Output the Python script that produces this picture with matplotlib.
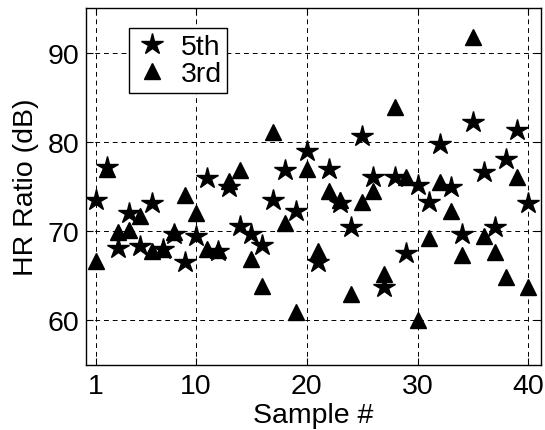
import matplotlib.pyplot as plt
import numpy as np

plt.rcParams['font.family'] = ['Liberation Sans', 'DejaVu Sans']

samples = np.arange(1, 41)
fifth = [73.5, 77.2, 68.1, 72.0, 68.3, 73.2, 68.0, 69.7, 66.5, 69.5,
         75.9, 67.8, 74.9, 70.6, 69.7, 68.4, 73.5, 76.8, 72.3, 79.0,
         66.5, 77.0, 73.1, 70.5, 80.7, 76.1, 63.7, 76.1, 67.6, 75.2,
         73.3, 79.8, 74.9, 69.7, 82.2, 76.6, 70.5, 78.1, 81.3, 73.1]
third = [66.7, 77.0, 69.9, 70.1, 71.7, 67.8, 68.0, 69.9, 74.1, 72.0,
         68.0, 67.9, 75.6, 76.8, 66.9, 63.9, 81.1, 70.9, 60.9, 77.0,
         67.8, 74.5, 73.5, 63.0, 73.3, 74.5, 65.2, 83.9, 76.1, 60.0,
         69.2, 75.5, 72.3, 67.3, 91.7, 69.5, 67.7, 64.9, 76.1, 63.7]

fig = plt.figure(figsize=(5.45, 4.31), dpi=100)
ax = fig.add_axes([0.158, 0.151, 0.835, 0.828])

ax.plot(samples, fifth, '*', color='k', markersize=16, label='5th')
ax.plot(samples, third, '^', color='k', markersize=11, label='3rd')

ax.set_xlim(0.1, 41.15)
ax.set_ylim(55, 95)
ax.set_xticks([1, 10, 20, 30, 40])
ax.set_yticks([60, 70, 80, 90])
ax.tick_params(direction='in', labelsize=20.5, top=True, right=True, length=5)
ax.tick_params(axis='x', pad=6)
ax.tick_params(axis='y', pad=5)
ax.grid(True, color='k', linestyle=(0, (5, 4)), linewidth=0.7)
for s in ax.spines.values():
    s.set_linewidth(1.0)

ax.set_xlabel('Sample #', fontsize=20.5, labelpad=2)
ax.set_ylabel('HR Ratio (dB)', fontsize=20.5, labelpad=6)

leg = ax.legend(loc='upper left', bbox_to_anchor=(0.095, 0.944), fontsize=20.5,
                fancybox=False, framealpha=1, edgecolor='k',
                handlelength=1.2, handletextpad=0.4, borderpad=0.2,
                labelspacing=0.05, borderaxespad=0)
leg.get_frame().set_linewidth(1.0)

plt.savefig('out.png', dpi=100)
